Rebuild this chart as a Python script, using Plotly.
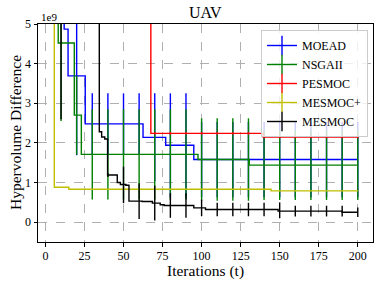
import plotly.graph_objects as go

# ---- data (y values in units of 1e9) ----
series_names = ["MOEAD", "NSGAII", "PESMOC", "MESMOC+", "MESMOC"]
series_colors = ["#0000ff", "#008000", "#ff0000", "#bfbf00", "#000000"]

# step lines: change points (x, value)
moead_x = [5, 12, 14.5, 25.5, 62.5, 77, 95, 200]
moead_y = [7.0, 4.87, 3.69, 2.48, 2.14, 1.94, 1.58, 1.58]

nsgaii_x = [5, 8.2, 18.5, 23, 97.7, 130.5, 200]
nsgaii_y = [7.0, 4.52, 2.70, 1.71, 1.58, 1.44, 1.44]

pesmoc_x = [5, 67.5, 139.4, 200]
pesmoc_y = [9.0, 2.24, 2.15, 2.15]

mesmocp_x = [5, 5.7, 15, 144.5, 200]
mesmocp_y = [7.0, 0.88, 0.83, 0.79, 0.79]

mesmoc_x = [5, 34.5, 36, 38, 39.8, 46, 48, 51.5, 53.5, 62, 68.5, 73.5, 76, 95, 102.5, 149, 190, 200]
mesmoc_y = [7.0, 2.28, 2.15, 2.10, 1.19, 1.0, 0.95, 0.93, 0.53, 0.52, 0.48, 0.44, 0.42, 0.36, 0.32, 0.28, 0.25, 0.25]

# error bars every 10 iterations
err_x = [10, 20, 30, 40, 50, 60, 70, 80, 90, 100, 110, 120, 130, 140, 150, 160, 170, 180, 190, 200]

moead_c = [7.0, 3.69, 2.48, 2.48, 2.48, 2.48, 2.14, 1.94, 1.94, 1.58, 1.58, 1.58, 1.58, 1.58, 1.58, 1.58, 1.58, 1.58, 1.58, 1.58]
moead_e = [0.5, 2.0, 0.77, 0.77, 0.77, 0.77, 1.11, 1.31, 1.31, 0.95, 0.95, 0.95, 0.95, 0.95, 0.95, 0.95, 0.95, 0.95, 0.95, 0.95]

nsgaii_c = [4.52, 2.70, 1.71, 1.71, 1.71, 1.71, 1.71, 1.71, 1.71, 1.58, 1.58, 1.58, 1.58, 1.44, 1.44, 1.44, 1.44, 1.44, 1.44, 1.44]
nsgaii_e = [1.97, 1.0, 1.14, 1.14, 1.14, 1.14, 1.14, 1.14, 1.14, 1.04, 1.04, 1.04, 1.04, 0.88, 0.88, 0.88, 0.88, 0.88, 0.88, 0.88]

pesmoc_c = [9.0, 9.0, 9.0, 9.0, 9.0, 9.0, 2.24, 2.24, 2.24, 2.24, 2.24, 2.24, 2.24, 2.15, 2.15, 2.15, 2.15, 2.15, 2.15, 2.15]
pesmoc_e = [0.03] * 20

mesmocp_c = [0.88, 0.83, 0.83, 0.83, 0.83, 0.83, 0.83, 0.83, 0.83, 0.83, 0.83, 0.83, 0.83, 0.83, 0.79, 0.79, 0.79, 0.79, 0.79, 0.79]
mesmocp_e = [0.01] * 20

mesmoc_c = [7.0, 7.0, 7.0, 1.19, 0.94, 0.53, 0.48, 0.42, 0.42, 0.36, 0.32, 0.32, 0.32, 0.32, 0.30, 0.28, 0.28, 0.28, 0.28, 0.25]
mesmoc_e = [4.4, 1.0, 1.0, 0.05, 0.46, 0.45, 0.44, 0.31, 0.31, 0.21, 0.17, 0.17, 0.17, 0.17, 0.20, 0.135, 0.135, 0.135, 0.135, 0.12]

lines = [(moead_x, moead_y), (nsgaii_x, nsgaii_y), (pesmoc_x, pesmoc_y),
         (mesmocp_x, mesmocp_y), (mesmoc_x, mesmoc_y)]
errs = [(moead_c, moead_e), (nsgaii_c, nsgaii_e), (pesmoc_c, pesmoc_e),
        (mesmocp_c, mesmocp_e), (mesmoc_c, mesmoc_e)]

FONT = "Liberation Serif"

# full-window figure (body margin removed in post_script)
W, H = 380, 286
ML, MR, MT, MB = 38, 7, 24, 44
PW, PH = W - ML - MR, H - MT - MB

def px(xw):  # window x -> paper x
    return (xw - ML) / PW

def py(yw):  # window y -> paper y
    return (H - MB - yw) / PH

fig = go.Figure()
for name, col, (lx, ly), (ec, ee) in zip(series_names, series_colors, lines, errs):
    fig.add_trace(go.Scatter(x=lx, y=ly, mode="lines", line=dict(color=col, width=1.4, shape="hv"),
                             showlegend=False, hoverinfo="skip"))
    fig.add_trace(go.Scatter(x=err_x, y=ec, mode="markers", marker=dict(size=0.1, color=col, opacity=0),
                             error_y=dict(type="data", array=ee, visible=True, color=col, thickness=1.4, width=0),
                             showlegend=False, hoverinfo="skip"))
for name, col in zip(series_names, series_colors):
    fig.add_trace(go.Scatter(x=[None], y=[None], mode="lines+markers", name=name,
                             line=dict(color=col, width=1.4),
                             marker=dict(symbol="line-ns-open", size=14, color=col,
                                         line=dict(color=col, width=1.4))))

fig.update_layout(
    width=W, height=H,
    margin=dict(l=ML, r=MR, t=MT, b=MB, autoexpand=False),
    paper_bgcolor="white", plot_bgcolor="white",
    font=dict(family=FONT, size=12, color="black"),
    xaxis=dict(range=[-4.75, 209.75], tickvals=[0, 25, 50, 75, 100, 125, 150, 175, 200],
               showgrid=True, gridcolor="#b0b0b0", griddash="dash", gridwidth=0.8,
               showline=True, linecolor="black", linewidth=1, mirror=True,
               ticks="outside", ticklen=3.5, tickcolor="black", zeroline=False,
               ticklabelstandoff=-1,
               automargin=False, tickfont=dict(family=FONT, size=12)),
    yaxis=dict(range=[-0.5, 5.0], tickvals=[0, 1, 2, 3, 4, 5],
               showgrid=True, gridcolor="#b0b0b0", griddash="dash", gridwidth=0.8,
               showline=True, linecolor="black", linewidth=1, mirror=True,
               ticks="outside", ticklen=3.5, tickcolor="black", zeroline=False,
               automargin=False, tickfont=dict(family=FONT, size=12)),
    legend=dict(x=px(368), y=py(30), xanchor="right", yanchor="top",
                bgcolor="rgba(255,255,255,0.8)", bordercolor="#cccccc", borderwidth=1,
                font=dict(family=FONT, size=12), tracegroupgap=0, itemwidth=30),
    annotations=[
        dict(text="UAV", x=px(205), y=py(13), xref="paper", yref="paper", xanchor="center",
             yanchor="middle", showarrow=False, font=dict(family=FONT, size=16)),
        dict(text="1e9", x=px(39), y=py(17), xref="paper", yref="paper", xanchor="left",
             yanchor="middle", showarrow=False, font=dict(family=FONT, size=11)),
        dict(text="Iterations (t)", x=px(205), y=py(271), xref="paper", yref="paper",
             xanchor="center", yanchor="middle", showarrow=False, font=dict(family=FONT, size=15.5)),
        dict(text="Hypervolume Difference", x=px(15), y=py(133), xref="paper", yref="paper",
             xanchor="center", yanchor="middle", showarrow=False, textangle=-90,
             font=dict(family=FONT, size=15.5)),
    ],
    showlegend=True,
)

fig.write_html("out.html", config={"displayModeBar": False},
               post_script="document.body.style.margin='0';")
